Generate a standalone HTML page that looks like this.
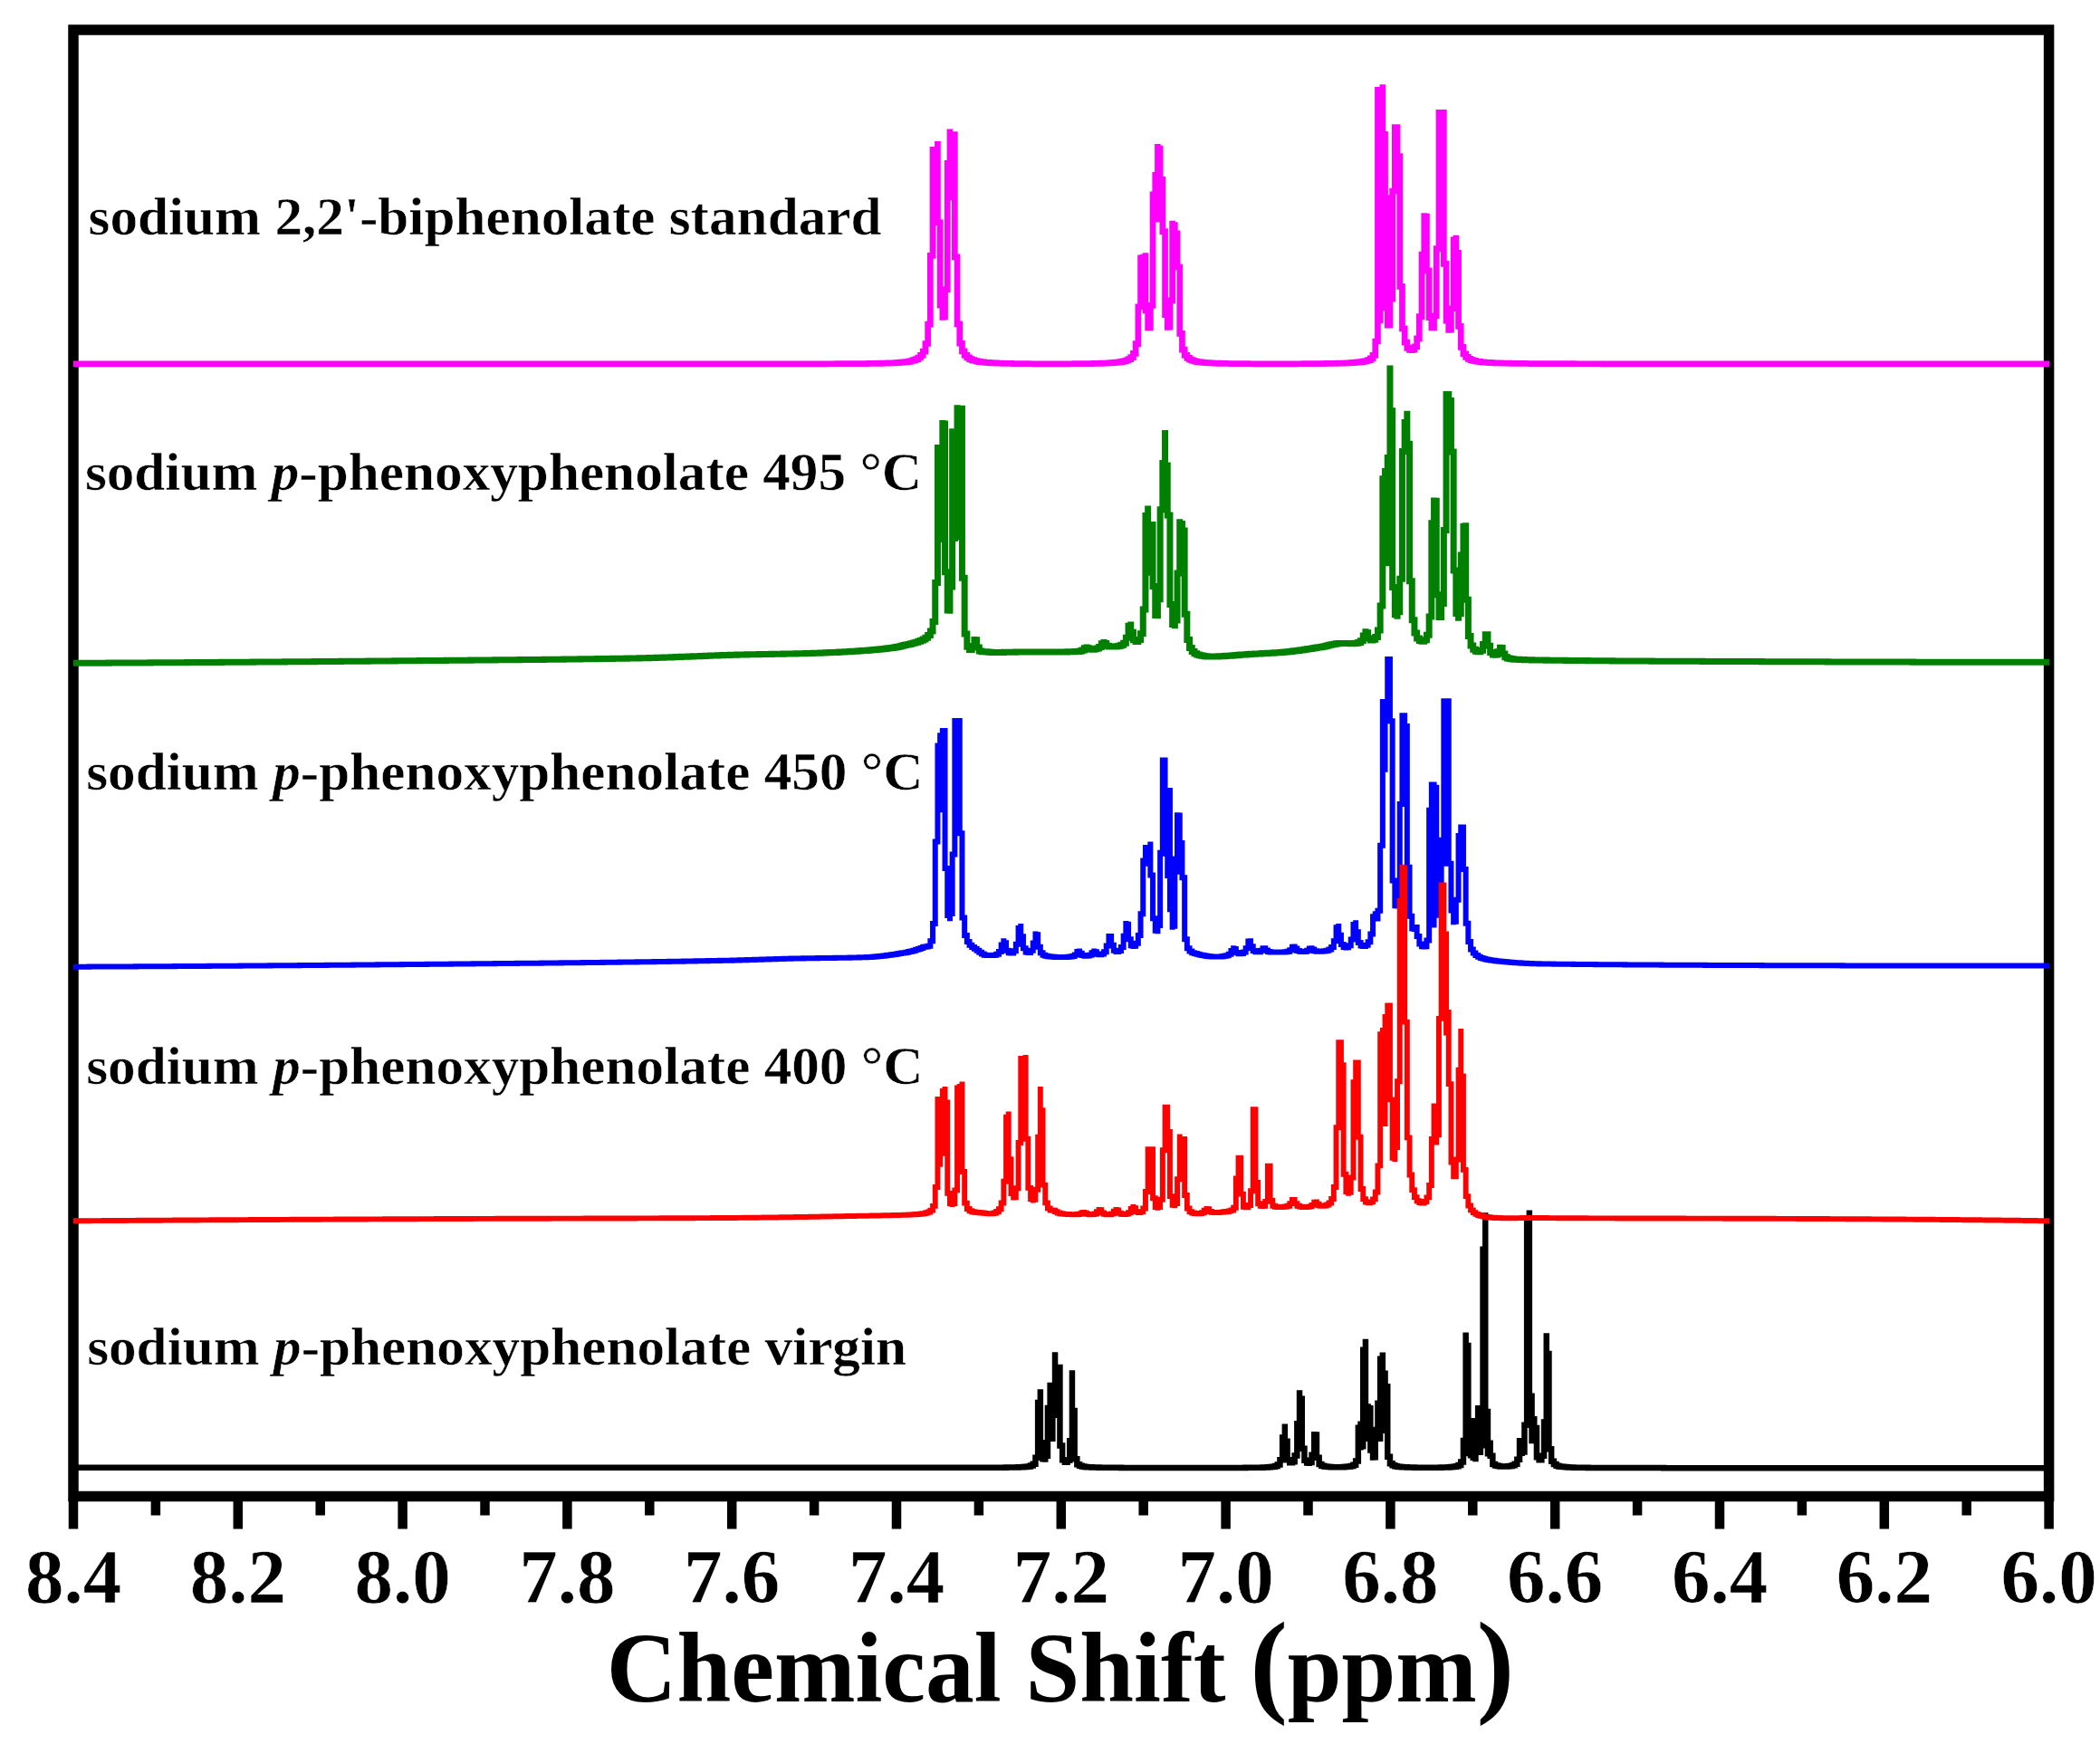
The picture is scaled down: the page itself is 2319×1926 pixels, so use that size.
<!DOCTYPE html>
<html><head><meta charset="utf-8"><title>NMR spectra</title>
<style>html,body{margin:0;padding:0;background:#fff;overflow:hidden;width:2319px;height:1926px;}svg{display:block;}</style></head>
<body>
<svg width="2319" height="1926" viewBox="0 0 2319 1926">
<rect width="2319" height="1926" fill="#fff"/>
<rect x="81.0" y="33.0" width="2181.6" height="1619.5" fill="none" stroke="#000" stroke-width="11.5"/>
<line x1="81.00" y1="1652.5" x2="81.00" y2="1688.5" stroke="#000" stroke-width="10.5"/>
<line x1="171.90" y1="1652.5" x2="171.90" y2="1673.5" stroke="#000" stroke-width="10.5"/>
<line x1="262.80" y1="1652.5" x2="262.80" y2="1688.5" stroke="#000" stroke-width="10.5"/>
<line x1="353.70" y1="1652.5" x2="353.70" y2="1673.5" stroke="#000" stroke-width="10.5"/>
<line x1="444.60" y1="1652.5" x2="444.60" y2="1688.5" stroke="#000" stroke-width="10.5"/>
<line x1="535.50" y1="1652.5" x2="535.50" y2="1673.5" stroke="#000" stroke-width="10.5"/>
<line x1="626.40" y1="1652.5" x2="626.40" y2="1688.5" stroke="#000" stroke-width="10.5"/>
<line x1="717.30" y1="1652.5" x2="717.30" y2="1673.5" stroke="#000" stroke-width="10.5"/>
<line x1="808.20" y1="1652.5" x2="808.20" y2="1688.5" stroke="#000" stroke-width="10.5"/>
<line x1="899.10" y1="1652.5" x2="899.10" y2="1673.5" stroke="#000" stroke-width="10.5"/>
<line x1="990.00" y1="1652.5" x2="990.00" y2="1688.5" stroke="#000" stroke-width="10.5"/>
<line x1="1080.90" y1="1652.5" x2="1080.90" y2="1673.5" stroke="#000" stroke-width="10.5"/>
<line x1="1171.80" y1="1652.5" x2="1171.80" y2="1688.5" stroke="#000" stroke-width="10.5"/>
<line x1="1262.70" y1="1652.5" x2="1262.70" y2="1673.5" stroke="#000" stroke-width="10.5"/>
<line x1="1353.60" y1="1652.5" x2="1353.60" y2="1688.5" stroke="#000" stroke-width="10.5"/>
<line x1="1444.50" y1="1652.5" x2="1444.50" y2="1673.5" stroke="#000" stroke-width="10.5"/>
<line x1="1535.40" y1="1652.5" x2="1535.40" y2="1688.5" stroke="#000" stroke-width="10.5"/>
<line x1="1626.30" y1="1652.5" x2="1626.30" y2="1673.5" stroke="#000" stroke-width="10.5"/>
<line x1="1717.20" y1="1652.5" x2="1717.20" y2="1688.5" stroke="#000" stroke-width="10.5"/>
<line x1="1808.10" y1="1652.5" x2="1808.10" y2="1673.5" stroke="#000" stroke-width="10.5"/>
<line x1="1899.00" y1="1652.5" x2="1899.00" y2="1688.5" stroke="#000" stroke-width="10.5"/>
<line x1="1989.90" y1="1652.5" x2="1989.90" y2="1673.5" stroke="#000" stroke-width="10.5"/>
<line x1="2080.80" y1="1652.5" x2="2080.80" y2="1688.5" stroke="#000" stroke-width="10.5"/>
<line x1="2171.70" y1="1652.5" x2="2171.70" y2="1673.5" stroke="#000" stroke-width="10.5"/>
<line x1="2262.60" y1="1652.5" x2="2262.60" y2="1688.5" stroke="#000" stroke-width="10.5"/>
<path fill="#000000" d="M81.00 1617.5H1111.60V1624H81.00zM1107.80 1617.25H1114.30V1624H1107.80zM1110.50 1617.25H1125.10V1623.75H1110.50zM1121.30 1617H1127.80V1623.75H1121.30zM1124.00 1617H1130.50V1623.5H1124.00zM1126.70 1616.75H1133.20V1623.5H1126.70zM1129.40 1616.5H1135.90V1623.25H1129.40zM1132.10 1616.25H1138.60V1623H1132.10zM1134.80 1615.25H1141.30V1622.75H1134.80zM1137.50 1613.5H1144.00V1621.75H1137.50zM1140.20 1606.5H1146.70V1620H1140.20zM1142.90 1545.75H1149.40V1613H1142.90zM1145.60 1534.25H1152.10V1596.5H1145.60zM1148.30 1590H1154.80V1614.5H1148.30zM1151.00 1604.5H1157.50V1614.75H1151.00zM1153.70 1551.75H1160.20V1611H1153.70zM1156.40 1526.75H1162.90V1590H1156.40zM1159.10 1529.5H1165.60V1592H1159.10zM1161.80 1493.25H1168.30V1536H1161.80zM1164.50 1516H1171.00V1566H1164.50zM1167.20 1506.75H1173.70V1599.75H1167.20zM1169.90 1593.25H1176.40V1615.5H1169.90zM1172.60 1609H1179.10V1618H1172.60zM1175.30 1609.5H1181.80V1618H1175.30zM1178.00 1588H1184.50V1616H1178.00zM1180.70 1513.25H1187.20V1594.5H1180.70zM1183.40 1554.75H1189.90V1614.5H1183.40zM1186.10 1608H1192.60V1620.5H1186.10zM1188.80 1614H1195.30V1622H1188.80zM1191.50 1615.5H1198.00V1622.75H1191.50zM1194.20 1616.25H1200.70V1623.25H1194.20zM1196.90 1616.75H1203.40V1623.5H1196.90zM1199.60 1617H1206.10V1623.5H1199.60zM1202.30 1617H1208.80V1623.75H1202.30zM1205.00 1617.25H1214.20V1623.75H1205.00zM1210.40 1617.25H1216.90V1624H1210.40zM1213.10 1617.5H1238.50V1624H1213.10zM1234.70 1617.5H1241.20V1624.25H1234.70zM1237.40 1617.75H1376.20V1624.25H1237.40zM1372.40 1617.5H1378.90V1624.25H1372.40zM1375.10 1617.5H1395.10V1624H1375.10zM1391.30 1617.25H1397.80V1624H1391.30zM1394.00 1617.25H1400.50V1623.75H1394.00zM1396.70 1617H1403.20V1623.75H1396.70zM1399.40 1616.75H1405.90V1623.5H1399.40zM1402.10 1616.5H1408.60V1623.25H1402.10zM1404.80 1615.75H1411.30V1623H1404.80zM1407.50 1614.25H1414.00V1622.25H1407.50zM1410.20 1609H1416.70V1620.75H1410.20zM1412.90 1584.25H1419.40V1615.5H1412.90zM1415.60 1572.5H1422.10V1595H1415.60zM1418.30 1588.5H1424.80V1615.5H1418.30zM1421.00 1609H1427.50V1618.5H1421.00zM1423.70 1611H1430.20V1618.5H1423.70zM1426.40 1604.25H1432.90V1617.5H1426.40zM1429.10 1569H1435.60V1610.75H1429.10zM1431.80 1535.25H1438.30V1575.5H1431.80zM1434.50 1541.5H1441.00V1603H1434.50zM1437.20 1596.5H1443.70V1616H1437.20zM1439.90 1609.5H1446.40V1618.75H1439.90zM1442.60 1611.75H1449.10V1619H1442.60zM1445.30 1603.5H1451.80V1618.25H1445.30zM1448.00 1581H1454.50V1610H1448.00zM1450.70 1581.25H1457.20V1613H1450.70zM1453.40 1606.5H1459.90V1620.25H1453.40zM1456.10 1613.75H1462.60V1622H1456.10zM1458.80 1615.5H1465.30V1622.75H1458.80zM1461.50 1616.25H1468.00V1623H1461.50zM1464.20 1616.5H1470.70V1623.25H1464.20zM1466.90 1616.75H1473.40V1623.5H1466.90zM1469.60 1617H1484.20V1623.5H1469.60zM1480.40 1616.75H1486.90V1623.5H1480.40zM1483.10 1616.5H1489.60V1623.25H1483.10zM1485.80 1616.25H1492.30V1623H1485.80zM1488.50 1615.75H1495.00V1622.75H1488.50zM1491.20 1614.5H1497.70V1622.25H1491.20zM1493.90 1610.25H1500.40V1621H1493.90zM1496.60 1573.5H1503.10V1616.75H1496.60zM1499.30 1569.5H1505.80V1601.5H1499.30zM1502.00 1487.5H1508.50V1600.5H1502.00zM1504.70 1478.75H1511.20V1556.75H1504.70zM1507.40 1550.25H1513.90V1592H1507.40zM1510.10 1552H1516.60V1604.75H1510.10zM1512.80 1598.25H1519.30V1612.75H1512.80zM1515.50 1575.75H1522.00V1612.5H1515.50zM1518.20 1546.5H1524.70V1591.75H1518.20zM1520.90 1497.5H1527.40V1592H1520.90zM1523.60 1493.5H1530.10V1581.75H1523.60zM1526.30 1513.5H1532.80V1583H1526.30zM1529.00 1528H1535.50V1612H1529.00zM1531.70 1605.5H1538.20V1619.5H1531.70zM1534.40 1613H1540.90V1621.5H1534.40zM1537.10 1615H1543.60V1622.5H1537.10zM1539.80 1616H1546.30V1623H1539.80zM1542.50 1616.5H1549.00V1623.25H1542.50zM1545.20 1616.75H1551.70V1623.5H1545.20zM1547.90 1617H1554.40V1623.5H1547.90zM1550.60 1617H1557.10V1623.75H1550.60zM1553.30 1617.25H1562.50V1623.75H1553.30zM1558.70 1617.25H1565.20V1624H1558.70zM1561.40 1617.5H1592.20V1624H1561.40zM1588.40 1617.25H1594.90V1624H1588.40zM1591.10 1617.25H1600.30V1623.75H1591.10zM1596.50 1617H1603.00V1623.75H1596.50zM1599.20 1616.75H1605.70V1623.5H1599.20zM1601.90 1616.5H1608.40V1623.25H1601.90zM1604.60 1616H1611.10V1623H1604.60zM1607.30 1614.75H1613.80V1622.5H1607.30zM1610.00 1611.25H1616.50V1621.25H1610.00zM1612.70 1587.75H1619.20V1617.75H1612.70zM1615.40 1471.5H1621.90V1594.25H1615.40zM1618.10 1482.75H1624.60V1608.25H1618.10zM1620.80 1578.75H1627.30V1610.5H1620.80zM1623.50 1566H1630.00V1613H1623.50zM1626.20 1599H1632.70V1614.25H1626.20zM1628.90 1552H1635.40V1605.5H1628.90zM1631.60 1591.5H1638.10V1607H1631.60zM1634.30 1376.5H1640.80V1599.5H1634.30zM1637.00 1339.25H1643.50V1562.25H1637.00zM1639.70 1555.75H1646.20V1608.5H1639.70zM1642.40 1590.5H1648.90V1611H1642.40zM1645.10 1604.5H1651.60V1620.25H1645.10zM1647.80 1613.75H1654.30V1621.75H1647.80zM1650.50 1615.25H1657.00V1622.25H1650.50zM1653.20 1615.75H1659.70V1622.75H1653.20zM1655.90 1616.25H1665.10V1622.75H1655.90zM1661.30 1616H1667.80V1622.75H1661.30zM1664.00 1615.75H1670.50V1622.5H1664.00zM1666.70 1615H1673.20V1622.25H1666.70zM1669.40 1613.5H1675.90V1621.5H1669.40zM1672.10 1608.5H1678.60V1620H1672.10zM1674.80 1588H1681.30V1615H1674.80zM1677.50 1589.75H1684.00V1608H1677.50zM1680.20 1570.5H1686.70V1606.75H1680.20zM1682.90 1348H1689.40V1577H1682.90zM1685.60 1336.5H1692.10V1545H1685.60zM1688.30 1538.5H1694.80V1594.25H1688.30zM1691.00 1564H1697.50V1594.25H1691.00zM1693.70 1573.75H1700.20V1612.5H1693.70zM1696.40 1606H1702.90V1615.5H1696.40zM1699.10 1604.5H1705.60V1615.5H1699.10zM1701.80 1567.25H1708.30V1611H1701.80zM1704.50 1472.25H1711.00V1573.75H1704.50zM1707.20 1491.75H1713.70V1603.5H1707.20zM1709.90 1597H1716.40V1617H1709.90zM1712.60 1610.5H1719.10V1620.25H1712.60zM1715.30 1613.75H1721.80V1622H1715.30zM1718.00 1615.5H1724.50V1622.75H1718.00zM1720.70 1616.25H1727.20V1623H1720.70zM1723.40 1616.5H1729.90V1623.25H1723.40zM1726.10 1616.75H1732.60V1623.5H1726.10zM1728.80 1617H1735.30V1623.75H1728.80zM1731.50 1617.25H1738.00V1623.75H1731.50zM1734.20 1617.25H1740.70V1624H1734.20zM1736.90 1617.5H1754.20V1624H1736.90zM1750.40 1617.5H1756.90V1624.25H1750.40zM1753.10 1617.75H1837.90V1624.25H1753.10zM1834.10 1617.75H1840.60V1624.5H1834.10zM1836.80 1618H2263.00V1624.5H1836.80z"/>
<path fill="#0000ff" d="M81.00 1064.75H98.85V1070.75H81.00zM95.55 1064.5H101.55V1070.75H95.55zM98.25 1064.5H150.15V1070.5H98.25zM146.85 1064.25H152.85V1070.5H146.85zM149.55 1064.25H193.35V1070.25H149.55zM190.05 1064H196.05V1070.25H190.05zM192.75 1064H231.15V1070H192.75zM227.85 1063.75H233.85V1070H227.85zM230.55 1063.75H266.25V1069.75H230.55zM262.95 1063.5H268.95V1069.75H262.95zM265.65 1063.5H298.65V1069.5H265.65zM295.35 1063.25H301.35V1069.5H295.35zM298.05 1063.25H331.05V1069.25H298.05zM327.75 1063H333.75V1069.25H327.75zM330.45 1063H360.75V1069H330.45zM357.45 1062.75H363.45V1069H357.45zM360.15 1062.75H390.45V1068.75H360.15zM387.15 1062.5H393.15V1068.75H387.15zM389.85 1062.5H417.45V1068.5H389.85zM414.15 1062.25H420.15V1068.5H414.15zM416.85 1062.25H444.45V1068.25H416.85zM441.15 1062H447.15V1068.25H441.15zM443.85 1062H471.45V1068H443.85zM468.15 1061.75H474.15V1068H468.15zM470.85 1061.75H498.45V1067.75H470.85zM495.15 1061.5H501.15V1067.75H495.15zM497.85 1061.5H522.75V1067.5H497.85zM519.45 1061.25H525.45V1067.5H519.45zM522.15 1061.25H547.05V1067.25H522.15zM543.75 1061H549.75V1067.25H543.75zM546.45 1061H571.35V1067H546.45zM568.05 1060.75H574.05V1067H568.05zM570.75 1060.75H598.35V1066.75H570.75zM595.05 1060.5H601.05V1066.75H595.05zM597.75 1060.5H619.95V1066.5H597.75zM616.65 1060.25H622.65V1066.5H616.65zM619.35 1060.25H644.25V1066.25H619.35zM640.95 1060H646.95V1066.25H640.95zM643.65 1060H665.85V1066H643.65zM662.55 1059.75H668.55V1066H662.55zM665.25 1059.75H684.75V1065.75H665.25zM681.45 1059.5H687.45V1065.75H681.45zM684.15 1059.5H703.65V1065.5H684.15zM700.35 1059.25H706.35V1065.5H700.35zM703.05 1059.25H722.55V1065.25H703.05zM719.25 1059H725.25V1065.25H719.25zM721.95 1059H738.75V1065H721.95zM735.45 1058.75H741.45V1065H735.45zM738.15 1058.75H754.95V1064.75H738.15zM751.65 1058.5H757.65V1064.75H751.65zM754.35 1058.5H768.45V1064.5H754.35zM765.15 1058.25H771.15V1064.5H765.15zM767.85 1058.25H781.95V1064.25H767.85zM778.65 1058H784.65V1064.25H778.65zM781.35 1058H795.45V1064H781.35zM792.15 1057.75H798.15V1064H792.15zM794.85 1057.75H808.95V1063.75H794.85zM805.65 1057.5H811.65V1063.75H805.65zM808.35 1057.5H817.05V1063.5H808.35zM813.75 1057.25H819.75V1063.5H813.75zM816.45 1057.25H825.15V1063.25H816.45zM821.85 1057H827.85V1063.25H821.85zM824.55 1057H833.25V1063H824.55zM829.95 1056.75H835.95V1063H829.95zM832.65 1056.75H841.35V1062.75H832.65zM838.05 1056.5H844.05V1062.75H838.05zM840.75 1056.5H849.45V1062.5H840.75zM846.15 1056.25H852.15V1062.5H846.15zM848.85 1056.25H857.55V1062.25H848.85zM854.25 1056H860.25V1062.25H854.25zM856.95 1056H865.65V1062H856.95zM862.35 1055.75H868.35V1062H862.35zM865.05 1055.75H873.75V1061.75H865.05zM870.45 1055.5H876.45V1061.75H870.45zM873.15 1055.5H887.25V1061.5H873.15zM883.95 1055.25H889.95V1061.5H883.95zM886.65 1055.25H903.45V1061.25H886.65zM900.15 1055H906.15V1061.25H900.15zM902.85 1055H922.35V1061H902.85zM919.05 1054.75H925.05V1061H919.05zM921.75 1054.75H938.55V1060.75H921.75zM935.25 1054.5H941.25V1060.75H935.25zM937.95 1054.5H949.35V1060.5H937.95zM946.05 1054.25H952.05V1060.5H946.05zM948.75 1054.25H957.45V1060.25H948.75zM954.15 1054H960.15V1060.25H954.15zM956.85 1054H962.85V1060H956.85zM959.55 1053.75H965.55V1060H959.55zM962.25 1053.5H968.25V1059.75H962.25zM964.95 1053.25H970.95V1059.5H964.95zM967.65 1053H973.65V1059.25H967.65zM970.35 1052.75H976.35V1059H970.35zM973.05 1052.5H979.05V1058.75H973.05zM975.75 1052H981.75V1058.5H975.75zM978.45 1051.75H984.45V1058H978.45zM981.15 1051.25H987.15V1057.75H981.15zM983.85 1051H989.85V1057.25H983.85zM986.55 1050.5H992.55V1057H986.55zM989.25 1050H995.25V1056.5H989.25zM991.95 1049.5H997.95V1056H991.95zM994.65 1049.25H1000.65V1055.5H994.65zM997.35 1048.75H1003.35V1055.25H997.35zM1000.05 1048H1006.05V1054.75H1000.05zM1002.75 1047.5H1008.75V1054H1002.75zM1005.45 1046.75H1011.45V1053.5H1005.45zM1008.15 1045.75H1014.15V1052.75H1008.15zM1010.85 1045H1016.85V1051.75H1010.85zM1013.55 1044H1019.55V1051H1013.55zM1016.25 1042.75H1022.25V1050H1016.25zM1018.95 1042.5H1024.95V1048.75H1018.95zM1021.65 1041.75H1027.65V1048.5H1021.65zM1024.35 1036.25H1030.35V1047.75H1024.35zM1027.05 1017H1033.05V1042.25H1027.05zM1029.75 926.5H1035.75V1023H1029.75zM1032.45 820.5H1038.45V932.5H1032.45zM1035.15 809.25H1041.15V897.25H1035.15zM1037.85 804H1043.85V843.25H1037.85zM1040.55 804H1046.55V962H1040.55zM1043.25 956H1049.25V1014H1043.25zM1045.95 1006H1051.95V1017.25H1045.95zM1048.65 940.5H1054.65V1012H1048.65zM1051.35 793H1057.35V946.5H1051.35zM1054.05 820.75H1060.05V898.5H1054.05zM1056.75 793H1062.75V923.25H1056.75zM1059.45 917.25H1065.45V1016.5H1059.45zM1062.15 1010.5H1068.15V1036H1062.15zM1064.85 1030H1070.85V1043H1064.85zM1067.55 1037H1073.55V1046.75H1067.55zM1070.25 1040.75H1076.25V1049H1070.25zM1072.95 1043H1078.95V1050.75H1072.95zM1075.65 1044.75H1081.65V1052.75H1075.65zM1078.35 1046.75H1084.35V1054.75H1078.35zM1081.05 1048.75H1087.05V1056.5H1081.05zM1083.75 1050.5H1089.75V1057.75H1083.75zM1086.45 1051.75H1092.45V1058H1086.45zM1089.15 1052H1097.85V1058H1089.15zM1094.55 1051.75H1100.55V1058H1094.55zM1097.25 1050.75H1103.25V1057.75H1097.25zM1099.95 1048H1105.95V1056.75H1099.95zM1102.65 1040.5H1108.65V1054H1102.65zM1105.35 1036.25H1111.35V1046.5H1105.35zM1108.05 1038.25H1114.05V1052.75H1108.05zM1110.75 1046.75H1116.75V1055.25H1110.75zM1113.45 1049.25H1119.45V1055.5H1113.45zM1116.15 1047.25H1122.15V1055.5H1116.15zM1118.85 1039.75H1124.85V1053.25H1118.85zM1121.55 1022H1127.55V1045.75H1121.55zM1124.25 1020H1130.25V1037.25H1124.25zM1126.95 1031.25H1132.95V1050.25H1126.95zM1129.65 1044.25H1135.65V1054.5H1129.65zM1132.35 1048.5H1138.35V1055H1132.35zM1135.05 1046.75H1141.05V1055H1135.05zM1137.75 1038.5H1143.75V1052.75H1137.75zM1140.45 1028.5H1146.45V1044.5H1140.45zM1143.15 1029.25H1149.15V1048.75H1143.15zM1145.85 1042.75H1151.85V1055.25H1145.85zM1148.55 1049.25H1154.55V1057.75H1148.55zM1151.25 1051.75H1157.25V1058.75H1151.25zM1153.95 1052.75H1159.95V1059.25H1153.95zM1156.65 1053.25H1162.65V1059.5H1156.65zM1159.35 1053.5H1165.35V1059.75H1159.35zM1162.05 1053.75H1168.05V1060H1162.05zM1164.75 1054H1178.85V1060H1164.75zM1175.55 1053.75H1181.55V1060H1175.55zM1178.25 1053.5H1184.25V1059.75H1178.25zM1180.95 1053H1186.95V1059.5H1180.95zM1183.65 1051.5H1189.65V1059H1183.65zM1186.35 1048H1192.35V1057.5H1186.35zM1189.05 1047.5H1195.05V1055.75H1189.05zM1191.75 1049.75H1197.75V1058H1191.75zM1194.45 1052H1200.45V1058.75H1194.45zM1197.15 1052.5H1203.15V1058.75H1197.15zM1199.85 1051.75H1205.85V1058.5H1199.85zM1202.55 1049.25H1208.55V1057.75H1202.55zM1205.25 1047.5H1211.25V1055.25H1205.25zM1207.95 1048.25H1213.95V1056.75H1207.95zM1210.65 1050.75H1216.65V1057.25H1210.65zM1213.35 1050.5H1219.35V1057.25H1213.35zM1216.05 1048.25H1222.05V1056.5H1216.05zM1218.75 1041.5H1224.75V1054.25H1218.75zM1221.45 1031H1227.45V1047.5H1221.45zM1224.15 1031H1230.15V1046.75H1224.15zM1226.85 1040.75H1232.85V1052.75H1226.85zM1229.55 1046.75H1235.55V1054H1229.55zM1232.25 1047H1238.25V1054H1232.25zM1234.95 1043H1240.95V1053H1234.95zM1237.65 1030.75H1243.65V1049H1237.65zM1240.35 1017H1246.35V1036.75H1240.35zM1243.05 1017.75H1249.05V1040.25H1243.05zM1245.75 1034.25H1251.75V1047.25H1245.75zM1248.45 1041.25H1254.45V1048H1248.45zM1251.15 1038.75H1257.15V1047.75H1251.15zM1253.85 1030H1259.85V1044.75H1253.85zM1256.55 1006.25H1262.55V1036H1256.55zM1259.25 947.5H1265.25V1012.25H1259.25zM1261.95 933H1267.95V953.5H1261.95zM1264.65 934.75H1270.65V956.75H1264.65zM1267.35 929.5H1273.35V969.5H1267.35zM1270.05 963.5H1276.05V1017.25H1270.05zM1272.75 1011.25H1278.75V1030.75H1272.75zM1275.45 1019H1281.45V1031.25H1275.45zM1278.15 938.75H1284.15V1025H1278.15zM1280.85 836.5H1286.85V944.75H1280.85zM1283.55 836.5H1289.55V945.75H1283.55zM1286.25 883.5H1292.25V970H1286.25zM1288.95 870H1294.95V1007.25H1288.95zM1291.65 1001.25H1297.65V1026.75H1291.65zM1294.35 945.5H1300.35V1025.75H1294.35zM1297.05 897.25H1303.05V965.75H1297.05zM1299.75 897.5H1305.75V965.5H1299.75zM1302.45 928H1308.45V972.25H1302.45zM1305.15 966.25H1311.15V1040.25H1305.15zM1307.85 1034.25H1313.85V1050.25H1307.85zM1310.55 1044.25H1316.55V1053.5H1310.55zM1313.25 1047.5H1319.25V1055.25H1313.25zM1315.95 1049.25H1321.95V1056H1315.95zM1318.65 1050H1324.65V1056.75H1318.65zM1321.35 1050.75H1327.35V1057.5H1321.35zM1324.05 1051.5H1330.05V1058H1324.05zM1326.75 1052H1332.75V1058.5H1326.75zM1329.45 1052.5H1335.45V1059H1329.45zM1332.15 1053H1338.15V1059.25H1332.15zM1334.85 1053.25H1340.85V1059.5H1334.85zM1337.55 1053.5H1348.95V1059.5H1337.55zM1345.65 1053.25H1351.65V1059.5H1345.65zM1348.35 1052.75H1354.35V1059.25H1348.35zM1351.05 1052.25H1357.05V1058.75H1351.05zM1353.75 1050.75H1359.75V1058.25H1353.75zM1356.45 1047H1362.45V1056.75H1356.45zM1359.15 1044.25H1365.15V1053H1359.15zM1361.85 1045H1367.85V1055H1361.85zM1364.55 1049H1370.55V1056.25H1364.55zM1367.25 1050H1373.25V1056.25H1367.25zM1369.95 1048.5H1375.95V1056H1369.95zM1372.65 1044.25H1378.65V1054.5H1372.65zM1375.35 1036.5H1381.35V1050.25H1375.35zM1378.05 1036.25H1384.05V1048.25H1378.05zM1380.75 1042.25H1386.75V1053H1380.75zM1383.45 1047H1389.45V1054.25H1383.45zM1386.15 1048.25H1392.15V1054.25H1386.15zM1388.85 1046.75H1394.85V1054.25H1388.85zM1391.55 1044.25H1397.55V1052.75H1391.55zM1394.25 1044.25H1400.25V1052.5H1394.25zM1396.95 1046.5H1402.95V1054H1396.95zM1399.65 1048H1405.65V1054.5H1399.65zM1402.35 1048.5H1419.15V1054.5H1402.35zM1415.85 1048.25H1421.85V1054.5H1415.85zM1418.55 1047.75H1424.55V1054.25H1418.55zM1421.25 1046.25H1427.25V1053.75H1421.25zM1423.95 1042.75H1429.95V1052.25H1423.95zM1426.65 1042.5H1432.65V1050.5H1426.65zM1429.35 1044.5H1435.35V1053H1429.35zM1432.05 1047H1438.05V1053.75H1432.05zM1434.75 1047.75H1443.45V1054H1434.75zM1440.15 1046.75H1446.15V1053.75H1440.15zM1442.85 1044.5H1448.85V1052.75H1442.85zM1445.55 1044.25H1451.55V1051.5H1445.55zM1448.25 1045.5H1454.25V1053.25H1448.25zM1450.95 1047.25H1456.95V1053.75H1450.95zM1453.65 1047.75H1459.65V1053.75H1453.65zM1456.35 1047.5H1462.35V1053.75H1456.35zM1459.05 1047.25H1465.05V1053.5H1459.05zM1461.75 1046.75H1467.75V1053.25H1461.75zM1464.45 1045.5H1470.45V1052.75H1464.45zM1467.15 1043H1473.15V1051.5H1467.15zM1469.85 1036.25H1475.85V1049H1469.85zM1472.55 1021.25H1478.55V1042.25H1472.55zM1475.25 1020H1481.25V1035.75H1475.25zM1477.95 1029.75H1483.95V1046H1477.95zM1480.65 1040H1486.65V1049H1480.65zM1483.35 1043H1489.35V1049.5H1483.35zM1486.05 1041.25H1492.05V1049.25H1486.05zM1488.75 1034.5H1494.75V1047.25H1488.75zM1491.45 1018H1497.45V1040.5H1491.45zM1494.15 1016.25H1500.15V1032.25H1494.15zM1496.85 1026.25H1502.85V1044H1496.85zM1499.55 1038H1505.55V1047.5H1499.55zM1502.25 1041.5H1508.25V1048H1502.25zM1504.95 1040.75H1510.95V1048H1504.95zM1507.65 1037.25H1513.65V1046.75H1507.65zM1510.35 1028.5H1516.35V1043.25H1510.35zM1513.05 1009.25H1519.05V1034.5H1513.05zM1515.75 1006.25H1521.75V1016.75H1515.75zM1518.45 1002.75H1524.45V1017.5H1518.45zM1521.15 930.75H1527.15V1008.75H1521.15zM1523.85 772H1529.85V936.75H1523.85zM1526.55 787.25H1532.55V852.75H1526.55zM1529.25 725H1535.25V798H1529.25zM1531.95 725H1537.95V799.25H1531.95zM1534.65 793.25H1540.65V975.5H1534.65zM1537.35 969.5H1543.35V1003.25H1537.35zM1540.05 981H1546.05V1003.5H1540.05zM1542.75 885H1548.75V987H1542.75zM1545.45 787.25H1551.45V891H1545.45zM1548.15 787.25H1554.15V808.75H1548.15zM1550.85 799H1556.85V960.75H1550.85zM1553.55 954.75H1559.55V1014.75H1553.55zM1556.25 1008.75H1562.25V1028.5H1556.25zM1558.95 1021H1564.95V1029H1558.95zM1561.65 1021H1567.65V1037H1561.65zM1564.35 1031H1570.35V1045.5H1564.35zM1567.05 1039.5H1573.05V1048.25H1567.05zM1569.75 1042.25H1575.75V1048.5H1569.75zM1572.45 1035.5H1578.45V1048.25H1572.45zM1575.15 891.75H1581.15V1041.5H1575.15zM1577.85 863.5H1586.55V1024.5H1577.85zM1583.25 866.75H1589.25V1013.75H1583.25zM1585.95 924.75H1591.95V1005.5H1585.95zM1588.65 950.75H1594.65V1007.25H1588.65zM1591.35 771.25H1597.35V956.75H1591.35zM1594.05 775.5H1600.05V840.25H1594.05zM1596.75 771.25H1602.75V956.75H1596.75zM1599.45 950.75H1605.45V1008.5H1599.45zM1602.15 1002.5H1608.15V1021.25H1602.15zM1604.85 990.75H1610.85V1020.75H1604.85zM1607.55 920H1613.55V996.75H1607.55zM1610.25 910.5H1616.25V926H1610.25zM1612.95 910.5H1618.95V963H1612.95zM1615.65 957H1621.65V1022.75H1615.65zM1618.35 1016.75H1624.35V1043H1618.35zM1621.05 1037H1627.05V1051.5H1621.05zM1623.75 1045.5H1629.75V1055.5H1623.75zM1626.45 1049.5H1632.45V1058H1626.45zM1629.15 1052H1635.15V1059.75H1629.15zM1631.85 1053.75H1637.85V1061H1631.85zM1634.55 1055H1640.55V1061.75H1634.55zM1637.25 1055.75H1643.25V1062.5H1637.25zM1639.95 1056.5H1645.95V1063H1639.95zM1642.65 1057H1648.65V1063.5H1642.65zM1645.35 1057.5H1651.35V1063.75H1645.35zM1648.05 1057.75H1654.05V1064.25H1648.05zM1650.75 1058.25H1656.75V1064.5H1650.75zM1653.45 1058.5H1659.45V1064.75H1653.45zM1656.15 1058.75H1662.15V1065H1656.15zM1658.85 1059H1664.85V1065.25H1658.85zM1661.55 1059.25H1667.55V1065.5H1661.55zM1664.25 1059.5H1670.25V1065.75H1664.25zM1666.95 1059.75H1672.95V1066H1666.95zM1669.65 1060H1675.65V1066.25H1669.65zM1672.35 1060.25H1678.35V1066.25H1672.35zM1675.05 1060.25H1681.05V1066.5H1675.05zM1677.75 1060.5H1683.75V1066.75H1677.75zM1680.45 1060.75H1686.45V1066.75H1680.45zM1683.15 1060.75H1689.15V1067H1683.15zM1685.85 1061H1691.85V1067H1685.85zM1688.55 1061H1694.55V1067.25H1688.55zM1691.25 1061.25H1699.95V1067.25H1691.25zM1696.65 1061.25H1702.65V1067.5H1696.65zM1699.35 1061.5H1716.15V1067.5H1699.35zM1712.85 1061.5H1718.85V1067.75H1712.85zM1715.55 1061.75H1737.75V1067.75H1715.55zM1734.45 1061.75H1740.45V1068H1734.45zM1737.15 1062H1762.05V1068H1737.15zM1758.75 1062H1764.75V1068.25H1758.75zM1761.45 1062.25H1794.45V1068.25H1761.45zM1791.15 1062.25H1797.15V1068.5H1791.15zM1793.85 1062.5H1834.95V1068.5H1793.85zM1831.65 1062.5H1837.65V1068.75H1831.65zM1834.35 1062.75H1883.55V1068.75H1834.35zM1880.25 1062.75H1886.25V1069H1880.25zM1882.95 1063H1945.65V1069H1882.95zM1942.35 1063H1948.35V1069.25H1942.35zM1945.05 1063.25H2034.75V1069.25H1945.05zM2031.45 1063.25H2037.45V1069.5H2031.45zM2034.15 1063.5H2263.00V1069.5H2034.15z"/>
<path fill="#008000" d="M81.00 728.75H120.95V735.75H81.00zM116.65 728.5H123.65V735.75H116.65zM119.35 728.5H166.85V735.5H119.35zM162.55 728.25H169.55V735.5H162.55zM165.25 728.25H207.35V735.25H165.25zM203.05 728H210.05V735.25H203.05zM205.75 728H245.15V735H205.75zM240.85 727.75H247.85V735H240.85zM243.55 727.75H280.25V734.75H243.55zM275.95 727.5H282.95V734.75H275.95zM278.65 727.5H315.35V734.5H278.65zM311.05 727.25H318.05V734.5H311.05zM313.75 727.25H347.75V734.25H313.75zM343.45 727H350.45V734.25H343.45zM346.15 727H377.45V734H346.15zM373.15 726.75H380.15V734H373.15zM375.85 726.75H407.15V733.75H375.85zM402.85 726.5H409.85V733.75H402.85zM405.55 726.5H436.85V733.5H405.55zM432.55 726.25H439.55V733.5H432.55zM435.25 726.25H463.85V733.25H435.25zM459.55 726H466.55V733.25H459.55zM462.25 726H493.55V733H462.25zM489.25 725.75H496.25V733H489.25zM491.95 725.75H520.55V732.75H491.95zM516.25 725.5H523.25V732.75H516.25zM518.95 725.5H547.55V732.5H518.95zM543.25 725.25H550.25V732.5H543.25zM545.95 725.25H574.55V732.25H545.95zM570.25 725H577.25V732.25H570.25zM572.95 725H601.55V732H572.95zM597.25 724.75H604.25V732H597.25zM599.95 724.75H623.15V731.75H599.95zM618.85 724.5H625.85V731.75H618.85zM621.55 724.5H642.05V731.5H621.55zM637.75 724.25H644.75V731.5H637.75zM640.45 724.25H660.95V731.25H640.45zM656.65 724H663.65V731.25H656.65zM659.35 724H677.15V731H659.35zM672.85 723.75H679.85V731H672.85zM675.55 723.75H693.35V730.75H675.55zM689.05 723.5H696.05V730.75H689.05zM691.75 723.5H706.85V730.5H691.75zM702.55 723.25H709.55V730.5H702.55zM705.25 723.25H717.65V730.25H705.25zM713.35 723H720.35V730.25H713.35zM716.05 723H725.75V730H716.05zM721.45 722.75H728.45V730H721.45zM724.15 722.75H733.85V729.75H724.15zM729.55 722.5H736.55V729.75H729.55zM732.25 722.5H741.95V729.5H732.25zM737.65 722.25H744.65V729.5H737.65zM740.35 722.25H747.35V729.25H740.35zM743.05 722H750.05V729.25H743.05zM745.75 722H752.75V729H745.75zM748.45 721.75H755.45V729H748.45zM751.15 721.75H760.85V728.75H751.15zM756.55 721.5H763.55V728.75H756.55zM759.25 721.5H766.25V728.5H759.25zM761.95 721.25H768.95V728.5H761.95zM764.65 721.25H774.35V728.25H764.65zM770.05 721H777.05V728.25H770.05zM772.75 721H779.75V728H772.75zM775.45 720.75H782.45V728H775.45zM778.15 720.75H785.15V727.75H778.15zM780.85 720.5H787.85V727.75H780.85zM783.55 720.5H793.25V727.5H783.55zM788.95 720.25H795.95V727.5H788.95zM791.65 720.25H798.65V727.25H791.65zM794.35 720H801.35V727.25H794.35zM797.05 720H806.75V727H797.05zM802.45 719.75H809.45V727H802.45zM805.15 719.75H814.85V726.75H805.15zM810.55 719.5H817.55V726.75H810.55zM813.25 719.5H825.65V726.5H813.25zM821.35 719.25H828.35V726.5H821.35zM824.05 719.25H839.15V726.25H824.05zM834.85 719H841.85V726.25H834.85zM837.55 719H852.65V726H837.55zM848.35 718.75H855.35V726H848.35zM851.05 718.75H866.15V725.75H851.05zM861.85 718.5H868.85V725.75H861.85zM864.55 718.5H879.65V725.5H864.55zM875.35 718.25H882.35V725.5H875.35zM878.05 718.25H890.45V725.25H878.05zM886.15 718H893.15V725.25H886.15zM888.85 718H898.55V725H888.85zM894.25 717.75H901.25V725H894.25zM896.95 717.75H906.65V724.75H896.95zM902.35 717.5H909.35V724.75H902.35zM905.05 717.5H912.05V724.5H905.05zM907.75 717.25H914.75V724.5H907.75zM910.45 717.25H917.45V724.25H910.45zM913.15 717H920.15V724.25H913.15zM915.85 717H925.55V724H915.85zM921.25 716.75H928.25V724H921.25zM923.95 716.5H930.95V723.75H923.95zM926.65 716.5H933.65V723.5H926.65zM929.35 716.25H936.35V723.5H929.35zM932.05 716.25H939.05V723.25H932.05zM934.75 716H941.75V723.25H934.75zM937.45 715.75H944.45V723H937.45zM940.15 715.75H947.15V722.75H940.15zM942.85 715.5H949.85V722.75H942.85zM945.55 715.25H952.55V722.5H945.55zM948.25 715H955.25V722.25H948.25zM950.95 715H957.95V722H950.95zM953.65 714.75H960.65V722H953.65zM956.35 714.5H963.35V721.75H956.35zM959.05 714.25H966.05V721.5H959.05zM961.75 714H968.75V721.25H961.75zM964.45 713.75H971.45V721H964.45zM967.15 713.5H974.15V720.75H967.15zM969.85 713.25H976.85V720.5H969.85zM972.55 713H979.55V720.25H972.55zM975.25 712.5H982.25V720H975.25zM977.95 712.25H984.95V719.5H977.95zM980.65 712H987.65V719.25H980.65zM983.35 711.5H990.35V719H983.35zM986.05 711H993.05V718.5H986.05zM988.75 710.5H995.75V718H988.75zM991.45 709.75H998.45V717.5H991.45zM994.15 709H1001.15V716.75H994.15zM996.85 708.5H1003.85V716H996.85zM999.55 708H1006.55V715.5H999.55zM1002.25 707.25H1009.25V715H1002.25zM1004.95 706.5H1011.95V714.25H1004.95zM1007.65 705.75H1014.65V713.5H1007.65zM1010.35 704.75H1017.35V712.75H1010.35zM1013.05 703.75H1020.05V711.75H1013.05zM1015.75 702.5H1022.75V710.75H1015.75zM1018.45 700.75H1025.45V709.5H1018.45zM1021.15 698H1028.15V707.75H1021.15zM1023.85 693.5H1030.85V705H1023.85zM1026.55 683H1033.55V700.5H1026.55zM1029.25 640H1036.25V690H1029.25zM1031.95 491H1038.95V647H1031.95zM1034.65 496.25H1041.65V599H1034.65zM1037.35 464H1044.35V590H1037.35zM1040.05 464.5H1047.05V635.25H1040.05zM1042.75 628.25H1049.75V677.5H1042.75zM1045.45 644.5H1052.45V677.75H1045.45zM1048.15 473.25H1055.15V651.5H1048.15zM1050.85 473.25H1057.85V598H1050.85zM1053.55 447.25H1060.55V596.5H1053.55zM1056.25 454.25H1063.25V527.25H1056.25zM1058.95 447.75H1065.95V641.75H1058.95zM1061.65 634.75H1068.65V703.5H1061.65zM1064.35 696.5H1071.35V717.75H1064.35zM1067.05 710.75H1074.05V721H1067.05zM1069.75 710H1076.75V721H1069.75zM1072.45 703H1079.45V717H1072.45zM1075.15 703.25H1082.15V718.5H1075.15zM1077.85 711.5H1084.85V722.5H1077.85zM1080.55 715.5H1087.55V723.25H1080.55zM1083.25 716.25H1090.25V723.25H1083.25zM1085.95 716.25H1092.95V723.5H1085.95zM1088.65 716.5H1095.65V723.75H1088.65zM1091.35 716.75H1098.35V724H1091.35zM1094.05 717H1109.15V724H1094.05zM1104.85 716.75H1111.85V724H1104.85zM1107.55 716.75H1122.65V723.75H1107.55zM1118.35 716.5H1125.35V723.75H1118.35zM1121.05 716.5H1179.35V723.5H1121.05zM1175.05 716.25H1182.05V723.5H1175.05zM1177.75 716.25H1187.45V723.25H1177.75zM1183.15 716H1190.15V723.25H1183.15zM1185.85 716H1192.85V723H1185.85zM1188.55 715.5H1195.55V723H1188.55zM1191.25 714.5H1198.25V722.5H1191.25zM1193.95 712.25H1200.95V721.5H1193.95zM1196.65 711.5H1203.65V719.25H1196.65zM1199.35 712.25H1206.35V720.5H1199.35zM1202.05 713.5H1209.05V720.75H1202.05zM1204.75 713.25H1211.75V720.75H1204.75zM1207.45 712.5H1214.45V720.25H1207.45zM1210.15 711H1217.15V719.5H1210.15zM1212.85 707.25H1219.85V718H1212.85zM1215.55 706H1222.55V714.25H1215.55zM1218.25 707H1225.25V716.75H1218.25zM1220.95 709.75H1227.95V717.5H1220.95zM1223.65 710.5H1233.35V717.5H1223.65zM1229.05 710.25H1236.05V717.5H1229.05zM1231.75 709.75H1238.75V717.25H1231.75zM1234.45 708.75H1241.45V716.75H1234.45zM1237.15 706.75H1244.15V715.75H1237.15zM1239.85 700.75H1246.85V713.75H1239.85zM1242.55 687.75H1249.55V707.75H1242.55zM1245.25 686.5H1252.25V701.75H1245.25zM1247.95 694.75H1254.95V710.25H1247.95zM1250.65 703.25H1257.65V712H1250.65zM1253.35 703H1260.35V712H1253.35zM1256.05 696.25H1263.05V710H1256.05zM1258.75 669.5H1265.75V703.25H1258.75zM1261.45 566H1268.45V676.5H1261.45zM1264.15 558.5H1271.15V618.75H1264.15zM1266.85 592.75H1273.85V635.75H1266.85zM1269.55 576H1276.55V651H1269.55zM1272.25 644H1279.25V683H1272.25zM1274.95 658.25H1281.95V683.25H1274.95zM1277.65 559.25H1284.65V665.25H1277.65zM1280.35 508H1287.35V566.25H1280.35zM1283.05 475H1290.05V517.5H1283.05zM1285.75 510.5H1292.75V572.5H1285.75zM1288.45 565.5H1295.45V671H1288.45zM1291.15 664H1298.15V693H1291.15zM1293.85 681.5H1300.85V694.25H1293.85zM1296.55 629.5H1303.55V688.5H1296.55zM1299.25 573.25H1306.25V636.5H1299.25zM1301.95 575H1308.95V595.5H1301.95zM1304.65 582.5H1311.65V681.75H1304.65zM1307.35 674.75H1314.35V710H1307.35zM1310.05 703H1317.05V719H1310.05zM1312.75 712H1319.75V723H1312.75zM1315.45 716H1322.45V725.25H1315.45zM1318.15 718.25H1325.15V726.5H1318.15zM1320.85 719.5H1327.85V727.25H1320.85zM1323.55 720.25H1330.55V727.75H1323.55zM1326.25 720.75H1333.25V728.25H1326.25zM1328.95 721.25H1335.95V728.5H1328.95zM1331.65 721.5H1346.75V728.5H1331.65zM1342.45 721.25H1349.45V728.5H1342.45zM1345.15 721.25H1352.15V728.25H1345.15zM1347.85 721H1354.85V728.25H1347.85zM1350.55 720.75H1357.55V728H1350.55zM1353.25 720.75H1360.25V727.75H1353.25zM1355.95 720.5H1362.95V727.75H1355.95zM1358.65 720.25H1365.65V727.5H1358.65zM1361.35 720H1368.35V727.25H1361.35zM1364.05 719.75H1371.05V727H1364.05zM1366.75 719.5H1373.75V726.75H1366.75zM1369.45 719.5H1376.45V726.5H1369.45zM1372.15 719.25H1379.15V726.5H1372.15zM1374.85 719H1381.85V726.25H1374.85zM1377.55 718.75H1384.55V726H1377.55zM1380.25 718.75H1387.25V725.75H1380.25zM1382.95 718.5H1389.95V725.75H1382.95zM1385.65 718.5H1392.65V725.5H1385.65zM1388.35 718.25H1395.35V725.5H1388.35zM1391.05 718H1398.05V725.25H1391.05zM1393.75 718H1400.75V725H1393.75zM1396.45 717.75H1403.45V725H1396.45zM1399.15 717.75H1406.15V724.75H1399.15zM1401.85 717.5H1408.85V724.75H1401.85zM1404.55 717.25H1411.55V724.5H1404.55zM1407.25 717.25H1414.25V724.25H1407.25zM1409.95 717H1416.95V724.25H1409.95zM1412.65 716.75H1419.65V724H1412.65zM1415.35 716.5H1422.35V723.75H1415.35zM1418.05 716.25H1425.05V723.5H1418.05zM1420.75 716H1427.75V723.25H1420.75zM1423.45 715.5H1430.45V723H1423.45zM1426.15 715.25H1433.15V722.5H1426.15zM1428.85 715H1435.85V722.25H1428.85zM1431.55 714.5H1438.55V722H1431.55zM1434.25 714.25H1441.25V721.5H1434.25zM1436.95 713.75H1443.95V721.25H1436.95zM1439.65 713.25H1446.65V720.75H1439.65zM1442.35 713H1449.35V720.25H1442.35zM1445.05 712.5H1452.05V720H1445.05zM1447.75 712H1454.75V719.5H1447.75zM1450.45 711.5H1457.45V719H1450.45zM1453.15 711.25H1460.15V718.5H1453.15zM1455.85 710.75H1462.85V718.25H1455.85zM1458.55 710.25H1465.55V717.75H1458.55zM1461.25 709.5H1468.25V717.25H1461.25zM1463.95 708.75H1470.95V716.5H1463.95zM1466.65 708.25H1473.65V715.75H1466.65zM1469.35 707.75H1476.35V715.25H1469.35zM1472.05 707.25H1479.05V714.75H1472.05zM1474.75 707H1481.75V714.25H1474.75zM1477.45 707H1492.55V714H1477.45zM1488.25 707H1497.95V714.25H1488.25zM1493.65 706.75H1500.65V714H1493.65zM1496.35 706H1503.35V713.75H1496.35zM1499.05 704.25H1506.05V713H1499.05zM1501.75 698.5H1508.75V711.25H1501.75zM1504.45 694.25H1511.45V705.5H1504.45zM1507.15 695.25H1514.15V708.5H1507.15zM1509.85 701.5H1516.85V710.5H1509.85zM1512.55 702.75H1519.55V710.5H1512.55zM1515.25 700H1522.25V709.75H1515.25zM1517.95 692.5H1524.95V707H1517.95zM1520.65 665.5H1527.65V699.5H1520.65zM1523.35 525.25H1530.35V672.5H1523.35zM1526.05 517H1533.05V623.75H1526.05zM1528.75 502H1535.75V625.25H1528.75zM1531.45 403.5H1538.45V509H1531.45zM1534.15 450.25H1541.15V652H1534.15zM1536.85 645H1543.85V682.25H1536.85zM1539.55 672.25H1546.55V683.75H1539.55zM1542.25 635.75H1549.25V679.25H1542.25zM1544.95 495H1551.95V642.75H1544.95zM1547.65 463H1554.65V502H1547.65zM1550.35 453.75H1557.35V501.75H1550.35zM1553.05 486.75H1560.05V645.25H1553.05zM1555.75 638.25H1562.75V688.25H1555.75zM1558.45 681.25H1565.45V702.5H1558.45zM1561.15 695.5H1568.15V708.5H1561.15zM1563.85 701.5H1570.85V711H1563.85zM1566.55 704H1573.55V711.75H1566.55zM1569.25 703.25H1576.25V711.75H1569.25zM1571.95 697.75H1578.95V710.25H1571.95zM1574.65 677.5H1581.65V704.75H1574.65zM1577.35 574.25H1584.35V684.5H1577.35zM1580.05 549.5H1587.05V581.25H1580.05zM1582.75 549.75H1589.75V660.25H1582.75zM1585.45 653.25H1592.45V685H1585.45zM1588.15 663H1595.15V685H1588.15zM1590.85 582H1597.85V670H1590.85zM1593.55 432H1600.55V589H1593.55zM1596.25 432H1603.25V452.5H1596.25zM1598.95 439H1605.95V502.5H1598.95zM1601.65 495.5H1608.65V633.5H1601.65zM1604.35 626.5H1611.35V681H1604.35zM1607.05 674H1614.05V685.75H1607.05zM1609.75 609.5H1616.75V681.25H1609.75zM1612.45 577.75H1619.45V616.5H1612.45zM1615.15 577.25H1622.15V665.75H1615.15zM1617.85 658.75H1624.85V706H1617.85zM1620.55 699H1627.55V716.5H1620.55zM1623.25 709.5H1630.25V720.75H1623.25zM1625.95 713.75H1632.95V722.75H1625.95zM1628.65 715.75H1635.65V723.25H1628.65zM1631.35 714.75H1638.35V723.25H1631.35zM1634.05 708H1641.05V721.75H1634.05zM1636.75 697.25H1643.75V715H1636.75zM1639.45 697.25H1646.45V716.75H1639.45zM1642.15 709.75H1649.15V724H1642.15zM1644.85 717H1651.85V726.5H1644.85zM1647.55 719.5H1654.55V726.75H1647.55zM1650.25 716.25H1657.25V726.5H1650.25zM1652.95 711.75H1659.95V723.25H1652.95zM1655.65 712H1662.65V725.5H1655.65zM1658.35 718.5H1665.35V729.25H1658.35zM1661.05 722.25H1668.05V730.5H1661.05zM1663.75 723.5H1670.75V731H1663.75zM1666.45 724H1673.45V731.5H1666.45zM1669.15 724.5H1676.15V731.75H1669.15zM1671.85 724.75H1678.85V731.75H1671.85zM1674.55 724.75H1681.55V732H1674.55zM1677.25 725H1684.25V732H1677.25zM1679.95 725H1686.95V732.25H1679.95zM1682.65 725.25H1692.35V732.25H1682.65zM1688.05 725.25H1695.05V732.5H1688.05zM1690.75 725.5H1708.55V732.5H1690.75zM1704.25 725.5H1711.25V732.75H1704.25zM1706.95 725.75H1730.15V732.75H1706.95zM1725.85 725.75H1732.85V733H1725.85zM1728.55 726H1754.45V733H1728.55zM1750.15 726H1757.15V733.25H1750.15zM1752.85 726.25H1781.45V733.25H1752.85zM1777.15 726.25H1784.15V733.5H1777.15zM1779.85 726.5H1824.65V733.5H1779.85zM1820.35 726.5H1827.35V733.75H1820.35zM1823.05 726.75H1881.35V733.75H1823.05zM1877.05 726.75H1884.05V734H1877.05zM1879.75 727H1946.15V734H1879.75zM1941.85 727H1948.85V734.25H1941.85zM1944.55 727.25H2019.05V734.25H1944.55zM2014.75 727.25H2021.75V734.5H2014.75zM2017.45 727.5H2113.55V734.5H2017.45zM2109.25 727.5H2116.25V734.75H2109.25zM2111.95 727.75H2263.00V734.75H2111.95z"/>
<path fill="#ff00ff" d="M81.00 398.5H914.60V405.25H81.00zM910.60 398.5H925.40V405H910.60zM921.40 398.25H960.50V405H921.40zM956.50 398H974.00V404.75H956.50zM970.00 397.75H976.70V404.75H970.00zM972.70 397.75H982.10V404.5H972.70zM978.10 397.5H984.80V404.5H978.10zM980.80 397.5H990.20V404.25H980.80zM986.20 397.25H992.90V404H986.20zM988.90 397H995.60V404H988.90zM991.60 396.75H998.30V403.75H991.60zM994.30 396.5H1001.00V403.5H994.30zM997.00 396.25H1003.70V403.25H997.00zM999.70 395.75H1006.40V403H999.70zM1002.40 395.25H1009.10V402.5H1002.40zM1005.10 394.25H1011.80V401.75H1005.10zM1007.80 393.25H1014.50V401H1007.80zM1010.50 391.75H1017.20V400H1010.50zM1013.20 389H1019.90V398.25H1013.20zM1015.90 384.75H1022.60V395.75H1015.90zM1018.60 376.25H1025.30V391.5H1018.60zM1021.30 354.75H1028.00V382.75H1021.30zM1024.00 279H1030.70V361.5H1024.00zM1026.70 162H1033.40V285.75H1026.70zM1029.40 168H1036.10V212.5H1029.40zM1032.10 156H1038.80V249H1032.10zM1034.80 242.25H1041.50V340.5H1034.80zM1037.50 333.75H1044.20V353.75H1037.50zM1040.20 316.25H1046.90V353.25H1040.20zM1042.90 177H1049.60V323H1042.90zM1045.60 142.5H1052.30V213H1045.60zM1048.30 148.5H1055.00V221.25H1048.30zM1051.00 145.25H1057.70V287.25H1051.00zM1053.70 280.5H1060.40V361.25H1053.70zM1056.40 354.5H1063.10V382.5H1056.40zM1059.10 376H1065.80V391.25H1059.10zM1061.80 384.5H1068.50V395.75H1061.80zM1064.50 389H1071.20V398.25H1064.50zM1067.20 391.5H1073.90V400H1067.20zM1069.90 393.25H1076.60V401H1069.90zM1072.60 394.25H1079.30V401.75H1072.60zM1075.30 395.25H1082.00V402.5H1075.30zM1078.00 395.75H1084.70V403H1078.00zM1080.70 396.25H1087.40V403.25H1080.70zM1083.40 396.5H1090.10V403.5H1083.40zM1086.10 397H1092.80V403.75H1086.10zM1088.80 397H1095.50V404H1088.80zM1091.50 397.25H1098.20V404.25H1091.50zM1094.20 397.5H1100.90V404.25H1094.20zM1096.90 397.5H1103.60V404.5H1096.90zM1099.60 397.75H1109.00V404.5H1099.60zM1105.00 398H1119.80V404.75H1105.00zM1115.80 398.25H1138.70V405H1115.80zM1134.70 398.5H1144.10V405H1134.70zM1140.10 398.5H1181.90V405.25H1140.10zM1177.90 398.5H1187.30V405H1177.90zM1183.30 398.25H1208.90V405H1183.30zM1204.90 398H1217.00V404.75H1204.90zM1213.00 397.75H1219.70V404.75H1213.00zM1215.70 397.75H1225.10V404.5H1215.70zM1221.10 397.5H1227.80V404.25H1221.10zM1223.80 397.25H1230.50V404.25H1223.80zM1226.50 397H1233.20V404H1226.50zM1229.20 396.75H1235.90V403.75H1229.20zM1231.90 396.5H1238.60V403.5H1231.90zM1234.60 396H1241.30V403.25H1234.60zM1237.30 395.5H1244.00V402.75H1237.30zM1240.00 394.75H1246.70V402.25H1240.00zM1242.70 393.25H1249.40V401.25H1242.70zM1245.40 391.25H1252.10V400H1245.40zM1248.10 387H1254.80V398H1248.10zM1250.80 376.25H1257.50V393.75H1250.80zM1253.50 335.5H1260.20V383H1253.50zM1256.20 281.5H1262.90V342.25H1256.20zM1258.90 280.75H1265.60V309.75H1258.90zM1261.60 279.25H1268.30V346.25H1261.60zM1264.30 339.5H1271.00V365.25H1264.30zM1267.00 334H1273.70V365.25H1267.00zM1269.70 211.5H1276.40V340.75H1269.70zM1272.40 190H1279.10V245.5H1272.40zM1275.10 159H1281.80V245.5H1275.10zM1277.80 160.75H1284.50V241.25H1277.80zM1280.50 195H1287.20V259H1280.50zM1283.20 252.25H1289.90V351H1283.20zM1285.90 344.25H1292.60V364.75H1285.90zM1288.60 328.5H1295.30V364.5H1288.60zM1291.30 243.75H1298.00V335.25H1291.30zM1294.00 245.25H1300.70V298.25H1294.00zM1296.70 254.5H1303.40V298.25H1296.70zM1299.40 291.5H1306.10V371.75H1299.40zM1302.10 365H1308.80V389.5H1302.10zM1304.80 382.75H1311.50V395.75H1304.80zM1307.50 389H1314.20V398.75H1307.50zM1310.20 392H1316.90V400.5H1310.20zM1312.90 393.75H1319.60V401.5H1312.90zM1315.60 395H1322.30V402.25H1315.60zM1318.30 395.75H1325.00V403H1318.30zM1321.00 396.25H1327.70V403.25H1321.00zM1323.70 396.5H1330.40V403.5H1323.70zM1326.40 397H1333.10V403.75H1326.40zM1329.10 397.25H1335.80V404H1329.10zM1331.80 397.25H1338.50V404.25H1331.80zM1334.50 397.5H1341.20V404.25H1334.50zM1337.20 397.75H1346.60V404.5H1337.20zM1342.60 397.75H1349.30V404.75H1342.60zM1345.30 398H1357.40V404.75H1345.30zM1353.40 398.25H1360.10V404.75H1353.40zM1356.10 398.25H1381.70V405H1356.10zM1377.70 398.5H1387.10V405H1377.70zM1383.10 398.5H1433.00V405.25H1383.10zM1429.00 398.5H1441.10V405H1429.00zM1437.10 398.25H1465.40V405H1437.10zM1461.40 398H1478.90V404.75H1461.40zM1474.90 397.75H1487.00V404.5H1474.90zM1483.00 397.5H1492.40V404.25H1483.00zM1488.40 397.25H1495.10V404H1488.40zM1491.10 397H1497.80V404H1491.10zM1493.80 396.75H1500.50V403.75H1493.80zM1496.50 396.5H1503.20V403.5H1496.50zM1499.20 396.25H1505.90V403.25H1499.20zM1501.90 395.75H1508.60V403H1501.90zM1504.60 395.25H1511.30V402.5H1504.60zM1507.30 394.25H1514.00V401.75H1507.30zM1510.00 392.5H1516.70V401H1510.00zM1512.70 389H1519.40V399.25H1512.70zM1515.40 373.75H1522.10V395.75H1515.40zM1518.10 96H1524.80V380.25H1518.10zM1520.80 153H1527.50V357H1520.80zM1523.50 93.25H1530.20V343.25H1523.50zM1526.20 145H1532.90V336.25H1526.20zM1528.90 215.25H1535.60V362.5H1528.90zM1531.60 326.75H1538.30V362.5H1531.60zM1534.30 207.75H1541.00V333.5H1534.30zM1537.00 137.25H1543.70V214.25H1537.00zM1539.70 137.25H1546.40V176H1539.70zM1542.40 169.25H1549.10V319.75H1542.40zM1545.10 313H1551.80V366.25H1545.10zM1547.80 359.5H1554.50V381.5H1547.80zM1550.50 374.75H1557.20V387.75H1550.50zM1553.20 381H1559.90V389.75H1553.20zM1555.90 382.75H1562.60V390H1555.90zM1558.60 379.5H1565.30V389.5H1558.60zM1561.30 370.5H1568.00V386.25H1561.30zM1564.00 346.25H1570.70V377.25H1564.00zM1566.70 277.75H1573.40V353H1566.70zM1569.40 235.25H1576.10V284.5H1569.40zM1572.10 235.75H1578.80V302.25H1572.10zM1574.80 295.5H1581.50V354H1574.80zM1577.50 347.25H1584.20V365.25H1577.50zM1580.20 345.5H1586.90V365.25H1580.20zM1582.90 271.25H1589.60V352.25H1582.90zM1585.60 121H1592.30V278H1585.60zM1588.30 121H1595.00V161.75H1588.30zM1591.00 121H1597.70V294.75H1591.00zM1593.70 288H1600.40V357.5H1593.70zM1596.40 351H1603.10V367.75H1596.40zM1599.10 337.5H1605.80V367.5H1599.10zM1601.80 261.5H1608.50V344H1601.80zM1604.50 259.75H1611.20V282.75H1604.50zM1607.20 276H1613.90V363.75H1607.20zM1609.90 357H1616.60V386.75H1609.90zM1612.60 380H1619.30V394.25H1612.60zM1615.30 387.5H1622.00V397.75H1615.30zM1618.00 391H1624.70V399.75H1618.00zM1620.70 393H1627.40V401H1620.70zM1623.40 394.25H1630.10V401.75H1623.40zM1626.10 395H1632.80V402.25H1626.10zM1628.80 395.75H1635.50V402.75H1628.80zM1631.50 396H1638.20V403H1631.50zM1634.20 396.5H1640.90V403.5H1634.20zM1636.90 396.75H1643.60V403.5H1636.90zM1639.60 397H1646.30V403.75H1639.60zM1642.30 397H1649.00V404H1642.30zM1645.00 397.25H1651.70V404H1645.00zM1647.70 397.5H1659.80V404.25H1647.70zM1655.80 397.75H1670.60V404.5H1655.80zM1666.60 398H1686.80V404.75H1666.60zM1682.80 398.25H1692.20V404.75H1682.80zM1688.20 398.25H1740.80V405H1688.20zM1736.80 398.5H1770.50V405H1736.80zM1766.50 398.5H2263.00V405.25H1766.50z"/>
<path fill="#ff0000" d="M81.00 1345.25H101.50V1351.25H81.00zM98.30 1345.25H115.00V1351H98.30zM111.80 1345H139.30V1351H111.80zM136.10 1345H152.80V1350.75H136.10zM149.60 1344.75H179.80V1350.75H149.60zM176.60 1344.75H193.30V1350.5H176.60zM190.10 1344.5H220.30V1350.5H190.10zM217.10 1344.5H233.80V1350.25H217.10zM230.60 1344.25H263.50V1350.25H230.60zM260.30 1344.25H277.00V1350H260.30zM273.80 1344H309.40V1350H273.80zM306.20 1344H322.90V1349.75H306.20zM319.70 1343.75H355.30V1349.75H319.70zM352.10 1343.75H371.50V1349.5H352.10zM368.30 1343.5H406.60V1349.5H368.30zM403.40 1343.5H425.50V1349.25H403.40zM422.30 1343.25H460.60V1349.25H422.30zM457.40 1343.25H482.20V1349H457.40zM479.00 1343H522.70V1349H479.00zM519.50 1343H549.70V1348.75H519.50zM546.50 1342.75H609.10V1348.75H546.50zM605.90 1342.75H646.90V1348.5H605.90zM643.70 1342.5H703.60V1348.5H643.70zM700.40 1342.5H730.60V1348.25H700.40zM727.40 1342.25H768.40V1348.25H727.40zM765.20 1342.25H787.30V1348H765.20zM784.10 1342H814.30V1348H784.10zM811.10 1342H822.40V1347.75H811.10zM819.20 1341.75H838.60V1347.75H819.20zM835.40 1341.75H844.00V1347.5H835.40zM840.80 1341.5H860.20V1347.5H840.80zM857.00 1341.5H862.90V1347.25H857.00zM859.70 1341.25H876.40V1347.25H859.70zM873.20 1341.25H879.10V1347H873.20zM875.90 1341H892.60V1347H875.90zM889.40 1341H895.30V1346.75H889.40zM892.10 1340.75H906.10V1346.75H892.10zM902.90 1340.75H908.80V1346.5H902.90zM905.60 1340.5H919.60V1346.5H905.60zM916.40 1340.5H922.30V1346.25H916.40zM919.10 1340.25H933.10V1346.25H919.10zM929.90 1340.25H935.80V1346H929.90zM932.60 1340H946.60V1346H932.60zM943.40 1340H949.30V1345.75H943.40zM946.10 1339.75H960.10V1345.75H946.10zM956.90 1339.75H962.80V1345.5H956.90zM959.60 1339.5H973.60V1345.5H959.60zM970.40 1339.5H976.30V1345.25H970.40zM973.10 1339.25H984.40V1345.25H973.10zM981.20 1339.25H987.10V1345H981.20zM983.90 1339H995.20V1345H983.90zM992.00 1339H997.90V1344.75H992.00zM994.70 1338.75H1003.30V1344.75H994.70zM1000.10 1338.5H1008.70V1344.5H1000.10zM1005.50 1338.25H1011.40V1344.25H1005.50zM1008.20 1338H1014.10V1344.25H1008.20zM1010.90 1338H1016.80V1344H1010.90zM1013.60 1337.5H1019.50V1343.75H1013.60zM1016.30 1337.25H1022.20V1343.5H1016.30zM1019.00 1336.5H1024.90V1343H1019.00zM1021.70 1335.5H1027.60V1342.5H1021.70zM1024.40 1333.75H1030.30V1341.5H1024.40zM1027.10 1329H1033.00V1339.5H1027.10zM1029.80 1308H1035.70V1334.75H1029.80zM1032.50 1211H1038.40V1314H1032.50zM1035.20 1221H1041.10V1288.75H1035.20zM1037.90 1202H1043.80V1276.75H1037.90zM1040.60 1200H1046.50V1263H1040.60zM1043.30 1214.5H1049.20V1320.75H1043.30zM1046.00 1315H1051.90V1332.25H1046.00zM1048.70 1326H1054.60V1333H1048.70zM1051.40 1311.5H1057.30V1332H1051.40zM1054.10 1198.5H1060.00V1317.25H1054.10zM1056.80 1197H1062.70V1261H1056.80zM1059.50 1194.5H1065.40V1297H1059.50zM1062.20 1291H1068.10V1331.5H1062.20zM1064.90 1325.75H1070.80V1338H1064.90zM1067.60 1332H1073.50V1340.25H1067.60zM1070.30 1334.25H1076.20V1341.25H1070.30zM1073.00 1335.25H1078.90V1341.75H1073.00zM1075.70 1335.75H1081.60V1342H1075.70zM1078.40 1336H1084.30V1342.25H1078.40zM1081.10 1336.25H1087.00V1342.5H1081.10zM1083.80 1336.5H1089.70V1342.75H1083.80zM1086.50 1337H1092.40V1343H1086.50zM1089.20 1337.25H1097.80V1343.25H1089.20zM1094.60 1336.5H1100.50V1343H1094.60zM1097.30 1335H1103.20V1342.5H1097.30zM1100.00 1332.25H1105.90V1341H1100.00zM1102.70 1325.5H1108.60V1338.25H1102.70zM1105.40 1301.75H1111.30V1331.5H1105.40zM1108.10 1230.75H1114.00V1307.75H1108.10zM1110.80 1227.5H1116.70V1283H1110.80zM1113.50 1277.25H1119.40V1321H1113.50zM1116.20 1315H1122.10V1325.5H1116.20zM1118.90 1309.25H1124.80V1325.25H1118.90zM1121.60 1259H1127.50V1315.25H1121.60zM1124.30 1166H1130.20V1265H1124.30zM1127.00 1172H1132.90V1206.25H1127.00zM1129.70 1165H1135.60V1260.75H1129.70zM1132.40 1254.75H1138.30V1314.75H1132.40zM1135.10 1309H1141.00V1327H1135.10zM1137.80 1321H1143.70V1328.5H1137.80zM1140.50 1310.75H1146.40V1327.75H1140.50zM1143.20 1252.75H1149.10V1316.75H1143.20zM1145.90 1200H1151.80V1258.5H1145.90zM1148.60 1223.25H1154.50V1311.5H1148.60zM1151.30 1305.75H1157.20V1331.25H1151.30zM1154.00 1325.5H1159.90V1337.25H1154.00zM1156.70 1331.5H1162.60V1339.5H1156.70zM1159.40 1333.5H1165.30V1339.75H1159.40zM1162.10 1333.75H1168.00V1341H1162.10zM1164.80 1335.25H1170.70V1342.5H1164.80zM1167.50 1336.5H1173.40V1343.25H1167.50zM1170.20 1337.25H1176.10V1343.5H1170.20zM1172.90 1337.75H1178.80V1343.75H1172.90zM1175.60 1338H1184.20V1344H1175.60zM1181.00 1338.25H1189.60V1344.25H1181.00zM1186.40 1338H1192.30V1344.25H1186.40zM1189.10 1337.5H1195.00V1344H1189.10zM1191.80 1336.25H1197.70V1343.5H1191.80zM1194.50 1336H1200.40V1342.75H1194.50zM1197.20 1336.75H1203.10V1343.75H1197.20zM1199.90 1338H1205.80V1344.25H1199.90zM1202.60 1338.25H1208.50V1344.25H1202.60zM1205.30 1337.5H1211.20V1344H1205.30zM1208.00 1335.25H1213.90V1343.5H1208.00zM1210.70 1333H1216.60V1341.25H1210.70zM1213.40 1333.25H1219.30V1342.5H1213.40zM1216.10 1336.5H1222.00V1343.75H1216.10zM1218.80 1338H1224.70V1344.25H1218.80zM1221.50 1338.25H1227.40V1344.25H1221.50zM1224.20 1337.5H1230.10V1344.25H1224.20zM1226.90 1334.75H1232.80V1343.25H1226.90zM1229.60 1333H1235.50V1340.75H1229.60zM1232.30 1333.5H1238.20V1342.75H1232.30zM1235.00 1336.75H1240.90V1343.75H1235.00zM1237.70 1338H1243.60V1344H1237.70zM1240.40 1337.75H1246.30V1344H1240.40zM1243.10 1336.25H1249.00V1343.5H1243.10zM1245.80 1332H1251.70V1342.25H1245.80zM1248.50 1330H1254.40V1338H1248.50zM1251.20 1331.25H1257.10V1341H1251.20zM1253.90 1335.25H1262.50V1342H1253.90zM1259.30 1331.5H1265.20V1341H1259.30zM1262.00 1313H1267.90V1337.5H1262.00zM1264.70 1266.25H1270.60V1319H1264.70zM1267.40 1266.25H1273.30V1295H1267.40zM1270.10 1266.25H1276.00V1326.25H1270.10zM1272.80 1320.25H1278.70V1336H1272.80zM1275.50 1330H1281.40V1336.75H1275.50zM1278.20 1321.75H1284.10V1336H1278.20zM1280.90 1267.25H1286.80V1327.75H1280.90zM1283.60 1219.75H1289.50V1273.25H1283.60zM1286.30 1219.75H1292.20V1263H1286.30zM1289.00 1247H1294.90V1324H1289.00zM1291.70 1318.25H1297.60V1333.75H1291.70zM1294.40 1326H1300.30V1334.25H1294.40zM1297.10 1299.25H1303.00V1332H1297.10zM1299.80 1252.5H1305.70V1305.25H1299.80zM1302.50 1255.75H1308.40V1294H1302.50zM1305.20 1255H1311.10V1323H1305.20zM1307.90 1317H1313.80V1337.5H1307.90zM1310.60 1331.5H1316.50V1341H1310.60zM1313.30 1335.25H1319.20V1342.5H1313.30zM1316.00 1336.5H1321.90V1343H1316.00zM1318.70 1337H1327.30V1343.25H1318.70zM1324.10 1336.25H1330.00V1343H1324.10zM1326.80 1333.75H1332.70V1342.25H1326.80zM1329.50 1332H1335.40V1339.75H1329.50zM1332.20 1332.25H1338.10V1341H1332.20zM1334.90 1335H1340.80V1341.75H1334.90zM1337.60 1336H1348.90V1342H1337.60zM1345.70 1335.75H1351.60V1341.75H1345.70zM1348.40 1335.25H1354.30V1341.5H1348.40zM1351.10 1335H1357.00V1341.25H1351.10zM1353.80 1334.5H1359.70V1341H1353.80zM1356.50 1333.5H1362.40V1340.25H1356.50zM1359.20 1330.75H1365.10V1339.5H1359.20zM1361.90 1298.5H1367.80V1336.75H1361.90zM1364.60 1275.75H1370.50V1320.5H1364.60zM1367.30 1275.75H1373.20V1321.5H1367.30zM1370.00 1315.75H1375.90V1335.75H1370.00zM1372.70 1329.75H1378.60V1336.25H1372.70zM1375.40 1328H1381.30V1336.25H1375.40zM1378.10 1312.25H1384.00V1334H1378.10zM1380.80 1222.25H1386.70V1318.25H1380.80zM1383.50 1222.25H1389.40V1309H1383.50zM1386.20 1303H1392.10V1332.25H1386.20zM1388.90 1326.25H1394.80V1334.75H1388.90zM1391.60 1328.75H1397.50V1335H1391.60zM1394.30 1324H1400.20V1334.75H1394.30zM1397.00 1284.75H1402.90V1329.75H1397.00zM1399.70 1284.75H1405.60V1328.75H1399.70zM1402.40 1322.75H1408.30V1334.75H1402.40zM1405.10 1328.75H1411.00V1335.75H1405.10zM1407.80 1329.75H1413.70V1336H1407.80zM1410.50 1330H1419.10V1336H1410.50zM1415.90 1329.5H1421.80V1335.75H1415.90zM1418.60 1328.75H1424.50V1335.5H1418.60zM1421.30 1326.25H1427.20V1334.75H1421.30zM1424.00 1322H1432.60V1332H1424.00zM1429.40 1326.25H1435.30V1334.75H1429.40zM1432.10 1328.75H1438.00V1335.5H1432.10zM1434.80 1329.75H1440.70V1336H1434.80zM1437.50 1330H1446.10V1336H1437.50zM1442.90 1329.5H1448.80V1335.75H1442.90zM1445.60 1328H1451.50V1335.25H1445.60zM1448.30 1324.75H1454.20V1333.75H1448.30zM1451.00 1324.5H1456.90V1332.75H1451.00zM1453.70 1326.75H1459.60V1334.5H1453.70zM1456.40 1328.75H1462.30V1334.75H1456.40zM1459.10 1328.5H1465.00V1334.75H1459.10zM1461.80 1327.5H1467.70V1334.5H1461.80zM1464.50 1325.5H1470.40V1333.5H1464.50zM1467.20 1321H1473.10V1331.5H1467.20zM1469.90 1308H1475.80V1327H1469.90zM1472.60 1242.25H1478.50V1314H1472.60zM1475.30 1148.25H1481.20V1248.25H1475.30zM1478.00 1148.25H1483.90V1196H1478.00zM1480.70 1173.25H1486.60V1299.75H1480.70zM1483.40 1293.75H1489.30V1319H1483.40zM1486.10 1313H1492.00V1320.75H1486.10zM1488.80 1297.5H1494.70V1319.75H1488.80zM1491.50 1192.25H1497.40V1303.5H1491.50zM1494.20 1170.5H1500.10V1213H1494.20zM1496.90 1170.5H1502.80V1258.75H1496.90zM1499.60 1252.75H1505.50V1316H1499.60zM1502.30 1310H1508.20V1327H1502.30zM1505.00 1321.25H1510.90V1330.5H1505.00zM1507.70 1324.5H1516.30V1331.25H1507.70zM1513.10 1321.5H1519.00V1330.25H1513.10zM1515.80 1313.5H1521.70V1327.25H1515.80zM1518.50 1284.5H1524.40V1319.5H1518.50zM1521.20 1139.25H1527.10V1290.25H1521.20zM1523.90 1135H1529.80V1243.5H1523.90zM1526.60 1120H1532.50V1244H1526.60zM1529.30 1107.5H1535.20V1170.75H1529.30zM1532.00 1107.5H1537.90V1217.25H1532.00zM1534.70 1211.5H1540.60V1281.75H1534.70zM1537.40 1264.25H1543.30V1283H1537.40zM1540.10 1191.25H1546.00V1270H1540.10zM1542.80 992H1548.70V1197.25H1542.80zM1545.50 954.75H1551.40V998H1545.50zM1548.20 955.5H1554.10V1131.5H1548.20zM1550.90 1125.75H1556.80V1259.25H1550.90zM1553.60 1253.5H1559.50V1300.5H1553.60zM1556.30 1294.5H1562.20V1317H1556.30zM1559.00 1311.25H1564.90V1325H1559.00zM1561.70 1319.25H1567.60V1329.25H1561.70zM1564.40 1323.25H1570.30V1331H1564.40zM1567.10 1325.25H1573.00V1331.5H1567.10zM1569.80 1324H1575.70V1331.5H1569.80zM1572.50 1319.5H1578.40V1330H1572.50zM1575.20 1306H1581.10V1325.25H1575.20zM1577.90 1255H1583.80V1312H1577.90zM1580.60 1218.5H1586.50V1261H1580.60zM1583.30 1239H1589.20V1264.5H1583.30zM1586.00 1122H1591.90V1256.25H1586.00zM1588.70 974.5H1594.60V1127.75H1588.70zM1591.40 974.5H1597.30V1034.5H1591.40zM1594.10 1028.5H1600.00V1143.5H1594.10zM1596.80 1115H1602.70V1200H1596.80zM1599.50 1194.25H1605.40V1286.5H1599.50zM1602.20 1280.75H1608.10V1302.25H1602.20zM1604.90 1277.5H1610.80V1302.25H1604.90zM1607.60 1178.75H1613.50V1283.5H1607.60zM1610.30 1136H1616.20V1191.25H1610.30zM1613.00 1185.5H1618.90V1294.75H1613.00zM1615.70 1289H1621.60V1324H1615.70zM1618.40 1318.25H1624.30V1334.5H1618.40zM1621.10 1328.5H1627.00V1339.25H1621.10zM1623.80 1333.5H1629.70V1342H1623.80zM1626.50 1336.25H1632.40V1343.75H1626.50zM1629.20 1338H1635.10V1345H1629.20zM1631.90 1339H1637.80V1345.75H1631.90zM1634.60 1340H1640.50V1346.5H1634.60zM1637.30 1340.5H1643.20V1347H1637.30zM1640.00 1341H1645.90V1347.25H1640.00zM1642.70 1341.25H1648.60V1347.5H1642.70zM1645.40 1341.75H1651.30V1347.75H1645.40zM1648.10 1341.75H1654.00V1348H1648.10zM1650.80 1342H1659.40V1348H1650.80zM1656.20 1342.25H1675.60V1348.25H1656.20zM1672.40 1342.25H1681.00V1348H1672.40zM1677.80 1342H1710.70V1348H1677.80zM1707.50 1342.25H1721.50V1348H1707.50zM1718.30 1342.25H1753.90V1348.25H1718.30zM1750.70 1342.5H1786.30V1348.25H1750.70zM1783.10 1342.5H1861.90V1348.5H1783.10zM1858.70 1342.75H1905.10V1348.5H1858.70zM1901.90 1342.75H1961.80V1348.75H1901.90zM1958.60 1343H1986.10V1348.75H1958.60zM1982.90 1343H2021.20V1349H1982.90zM2018.00 1343.25H2040.10V1349H2018.00zM2036.90 1343.25H2067.10V1349.25H2036.90zM2063.90 1343.5H2080.60V1349.25H2063.90zM2077.40 1343.5H2104.90V1349.5H2077.40zM2101.70 1343.75H2115.70V1349.5H2101.70zM2112.50 1343.75H2137.30V1349.75H2112.50zM2134.10 1344H2145.40V1349.75H2134.10zM2142.20 1344H2164.30V1350H2142.20zM2161.10 1344.25H2169.70V1350H2161.10zM2166.50 1344.25H2188.60V1350.25H2166.50zM2185.40 1344.5H2194.00V1350.25H2185.40zM2190.80 1344.5H2210.20V1350.5H2190.80zM2207.00 1344.75H2215.60V1350.5H2207.00zM2212.40 1344.75H2231.80V1350.75H2212.40zM2228.60 1345H2237.20V1350.75H2228.60zM2234.00 1345H2250.70V1351H2234.00zM2247.50 1345.25H2253.40V1351H2247.50zM2250.20 1345.25H2263.00V1351.25H2250.20z"/>
<text x="81.0" y="1770" text-anchor="middle" font-family='"Liberation Serif",serif' font-weight="bold" font-size="85" stroke="#fff" stroke-width="0.5">8.4</text>
<text x="262.8" y="1770" text-anchor="middle" font-family='"Liberation Serif",serif' font-weight="bold" font-size="85" stroke="#fff" stroke-width="0.5">8.2</text>
<text x="444.6" y="1770" text-anchor="middle" font-family='"Liberation Serif",serif' font-weight="bold" font-size="85" stroke="#fff" stroke-width="0.5">8.0</text>
<text x="626.4" y="1770" text-anchor="middle" font-family='"Liberation Serif",serif' font-weight="bold" font-size="85" stroke="#fff" stroke-width="0.5">7.8</text>
<text x="808.2" y="1770" text-anchor="middle" font-family='"Liberation Serif",serif' font-weight="bold" font-size="85" stroke="#fff" stroke-width="0.5">7.6</text>
<text x="990.0" y="1770" text-anchor="middle" font-family='"Liberation Serif",serif' font-weight="bold" font-size="85" stroke="#fff" stroke-width="0.5">7.4</text>
<text x="1171.8" y="1770" text-anchor="middle" font-family='"Liberation Serif",serif' font-weight="bold" font-size="85" stroke="#fff" stroke-width="0.5">7.2</text>
<text x="1353.6" y="1770" text-anchor="middle" font-family='"Liberation Serif",serif' font-weight="bold" font-size="85" stroke="#fff" stroke-width="0.5">7.0</text>
<text x="1535.4" y="1770" text-anchor="middle" font-family='"Liberation Serif",serif' font-weight="bold" font-size="85" stroke="#fff" stroke-width="0.5">6.8</text>
<text x="1717.2" y="1770" text-anchor="middle" font-family='"Liberation Serif",serif' font-weight="bold" font-size="85" stroke="#fff" stroke-width="0.5">6.6</text>
<text x="1899.0" y="1770" text-anchor="middle" font-family='"Liberation Serif",serif' font-weight="bold" font-size="85" stroke="#fff" stroke-width="0.5">6.4</text>
<text x="2080.8" y="1770" text-anchor="middle" font-family='"Liberation Serif",serif' font-weight="bold" font-size="85" stroke="#fff" stroke-width="0.5">6.2</text>
<text x="2262.6" y="1770" text-anchor="middle" font-family='"Liberation Serif",serif' font-weight="bold" font-size="85" stroke="#fff" stroke-width="0.5">6.0</text>
<text x="1171" y="1879" text-anchor="middle" font-family='"Liberation Serif",serif' font-weight="bold" font-size="110" transform="translate(1171 0) scale(0.9772 1) translate(-1171 0)">Chemical Shift <tspan font-size="127">(</tspan>ppm<tspan font-size="127">)</tspan></text>
<text x="97.6" y="259.1" font-family='"Liberation Serif",serif' font-weight="bold" font-size="59.5" stroke="#fff" stroke-width="0.5" transform="translate(97.6 0) scale(1.029 1) translate(-97.6 0)">sodium 2,2'-biphenolate standard</text>
<text x="93.9" y="540.8" font-family='"Liberation Serif",serif' font-weight="bold" font-size="59.5" stroke="#fff" stroke-width="0.5" transform="translate(93.9 0) scale(1.029 1) translate(-93.9 0)">sodium <tspan font-style="italic">p</tspan>-phenoxyphenolate 495 °C</text>
<text x="95.3" y="872.2" font-family='"Liberation Serif",serif' font-weight="bold" font-size="59.5" stroke="#fff" stroke-width="0.5" transform="translate(95.3 0) scale(1.029 1) translate(-95.3 0)">sodium <tspan font-style="italic">p</tspan>-phenoxyphenolate 450 °C</text>
<text x="95.3" y="1197.2" font-family='"Liberation Serif",serif' font-weight="bold" font-size="59.5" stroke="#fff" stroke-width="0.5" transform="translate(95.3 0) scale(1.029 1) translate(-95.3 0)">sodium <tspan font-style="italic">p</tspan>-phenoxyphenolate 400 °C</text>
<text x="96.2" y="1507.2" font-family='"Liberation Serif",serif' font-weight="bold" font-size="59.5" stroke="#fff" stroke-width="0.5" transform="translate(96.2 0) scale(1.029 1) translate(-96.2 0)">sodium <tspan font-style="italic">p</tspan>-phenoxyphenolate virgin</text>
</svg>
</body></html>
